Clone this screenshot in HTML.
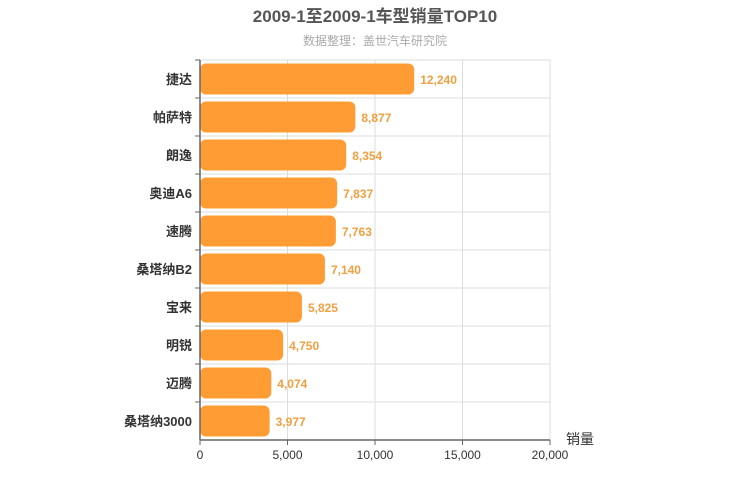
<!DOCTYPE html>
<html><head><meta charset="utf-8"><style>
body{margin:0;background:#fff;}
svg{display:block;font-family:"Liberation Sans","Noto Sans CJK SC",sans-serif;}
</style></head><body>
<svg id="c" width="750" height="500">
<text x="375" y="22" text-anchor="middle" font-size="17" font-weight="bold" fill="#555">2009-1至2009-1车型销量TOP10</text>
<text x="375" y="45" text-anchor="middle" font-size="12" fill="#aaa">数据整理：盖世汽车研究院</text>
<g id="grid"></g><g id="bars"></g><g id="axes"></g>
<text x="566" y="444" font-size="14" fill="#333">销量</text>
</svg>
<script>
const categories=["捷达","帕萨特","朗逸","奥迪A6","速腾","桑塔纳B2","宝来","明锐","迈腾","桑塔纳3000"];
const values=[12240,8877,8354,7837,7763,7140,5825,4750,4074,3977];
const ticks=[0,5000,10000,15000,20000];
const tickLabels=["0","5,000","10,000","15,000","20,000"];
const NS="http://www.w3.org/2000/svg";
const x0=200,x1=550,y0=60,y1=440,maxV=20000;
const rowH=(y1-y0)/categories.length;
const xs=v=>x0+v/maxV*(x1-x0);
const ys=i=>y0+i*rowH;
function mk(tag,attrs,parent,txt){const e=document.createElementNS(NS,tag);for(const k in attrs)e.setAttribute(k,attrs[k]);if(txt!==undefined)e.textContent=txt;document.getElementById(parent).appendChild(e);return e;}
// grid
ticks.forEach((t,i)=>{
 const l=mk('line',{x1:xs(t),x2:xs(t),y1:y0,y2:y1,stroke:'#ddd'},'grid');
 
 
 const tx=mk('text',{x:xs(t),y:y1+19,'text-anchor':'middle','font-size':12,fill:'#333'},'axes',tickLabels[i]);
 
 
 const tk=mk('line',{x1:xs(t),x2:xs(t),y1:y1,y2:y1+5,stroke:'#666'},'axes');
 
 
});
for(let i=0;i<categories.length;i++){
 const g=mk('line',{x1:x0,x2:x1,y1:ys(i),y2:ys(i),stroke:'#ddd'},'grid');
 
 
 const tk=mk('line',{x1:x0-5,x2:x0,y1:ys(i),y2:ys(i),stroke:'#666'},'axes');
 
 
}
categories.forEach((c,i)=>{
 const v=values[i];
 const b=mk('rect',{x:x0,y:ys(i)+3.5,width:xs(v)-x0,height:rowH-7,rx:6,fill:'#ff9c33'},'bars');
 
 
 const vl=mk('text',{x:xs(v)+6,y:ys(i)+rowH/2+5,'font-size':12,'font-weight':'bold',fill:'#f0a040'},'bars',v.toLocaleString('en-US'));
 
 
 const cl=mk('text',{x:x0-8,y:ys(i)+rowH/2+5,'text-anchor':'end','font-size':13,'font-weight':'bold',fill:'#333'},'axes',c);
 
 
});
const ya=mk('line',{x1:x0,x2:x0,y1:y0,y2:y1,stroke:'#666','stroke-width':1.5},'axes');


const xa=mk('line',{x1:x0,x2:x1,y1:y1,y2:y1,stroke:'#666','stroke-width':1.5},'axes');


</script>
</body></html>
